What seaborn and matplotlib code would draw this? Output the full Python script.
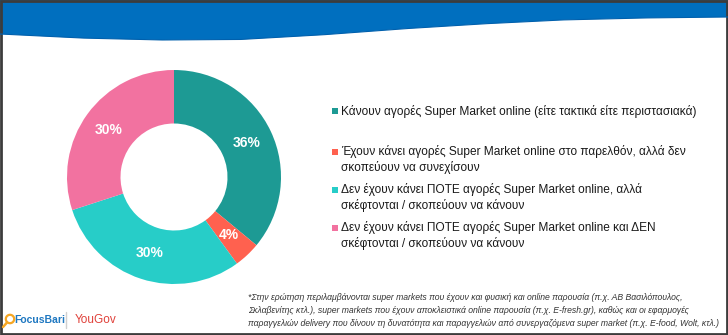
import numpy as np
import matplotlib
matplotlib.use("Agg")
import matplotlib.pyplot as plt
import seaborn as sns
from matplotlib.patches import Rectangle, Circle

sns.set_theme(style="white")
plt.rcParams['font.family'] = ['Liberation Sans', 'DejaVu Sans']

# ---- data ----
categories = [
    "Κάνουν αγορές Super Market online (είτε τακτικά είτε περιστασιακά)",
    "Έχουν κάνει αγορές Super Market online στο παρελθόν, αλλά δεν\nσκοπεύουν να συνεχίσουν",
    "Δεν έχουν κάνει ΠΟΤΕ αγορές Super Market online, αλλά\nσκέφτονται / σκοπεύουν να κάνουν",
    "Δεν έχουν κάνει ΠΟΤΕ αγορές Super Market online και ΔΕΝ\nσκέφτονται / σκοπεύουν να κάνουν",
]
values = [36, 4, 30, 30]
colors = ["#1D9A94", "#FF614F", "#27CDC8", "#F272A0"]
footnote_lines = [
    "*Στην ερώτηση περιλαμβάνονται super markets που έχουν και φυσική και online παρουσία (π.χ. ΑΒ Βασιλόπουλος,",
    "Σκλαβενίτης κτλ.), super markets που έχουν αποκλειστικά online παρουσία (π.χ. E-fresh.gr), καθώς και οι εφαρμογές",
    "παραγγελιών delivery που δίνουν τη δυνατότητα και παραγγελιών από συνεργαζόμενα super market (π.χ. E-food, Wolt, κτλ.)",
]

W, H = 728, 335
fig = plt.figure(figsize=(W / 100, H / 100), dpi=100)
fig.patch.set_facecolor("white")

# background/decoration axes in pixel coords
bg = fig.add_axes([0, 0, 1, 1])
bg.set_xlim(0, W)
bg.set_ylim(H, 0)
bg.axis("off")
wx = np.array([0, 80, 160, 240, 320, 400, 480, 560, 640, 728])
wy = np.array([34, 38, 40, 39.5, 35, 29, 24, 20, 18, 17])
xs = np.linspace(0, W, 400)
ys = np.interp(xs, wx, wy)
bg.fill_between(xs, 0, ys, color="#006FBF", lw=0)
bg.plot(xs, ys, color="#0060AD", lw=0.8)
bg.add_patch(Rectangle((0.5, 0.5), W - 1.5, H - 1.5, fill=False, ec="#3C3C3C", lw=2))

# logos
bg.add_patch(Circle((10, 319), 4.2, fill=False, ec="#F5A623", lw=1.6))
bg.plot([7, 3], [322.5, 327], color="#F5A623", lw=1.8)
bg.text(14, 320, "FocusBari", color="#1F78C1", fontsize=7.5, fontweight="bold",
        va="center", ha="left")
bg.plot([66, 66], [312, 328], color="#D0D0D0", lw=1)
bg.text(75, 320, "YouGov", color="#E0413A", fontsize=8.5, va="center", ha="left")

# footnote
for i, line in enumerate(footnote_lines):
    bg.text(248, 298 + i * 12.5, line, fontsize=6.2, style="italic", color="#333333",
            va="center", ha="left")

# legend (manual)
leg_y = [110, 151, 189, 227]
for c, lab, y in zip(colors, categories, leg_y):
    bg.add_patch(Rectangle((332, y - 2.5), 6, 6, color=c, lw=0))
    bg.text(341, y - 5.5, lab, fontsize=8.6, color="#1A1A1A", va="top", ha="left",
            linespacing=1.28)

# donut
cx, cy, r = 174, 177, 107
ax = fig.add_axes([(cx - r) / W, (H - cy - r) / H, 2 * r / W, 2 * r / H])
wedges, texts, autotexts = ax.pie(
    values, colors=colors, startangle=90, counterclock=False,
    wedgeprops=dict(width=0.5, linewidth=0),
    autopct=lambda p: f"{p:.0f}%", pctdistance=0.75,
    textprops=dict(color="white", fontsize=10, fontweight="bold"),
)
ax.set_xlim(-1, 1)
ax.set_ylim(-1, 1)
ax.set_aspect("equal")
ax.axis("off")

fig.savefig("out.png", dpi=100)
